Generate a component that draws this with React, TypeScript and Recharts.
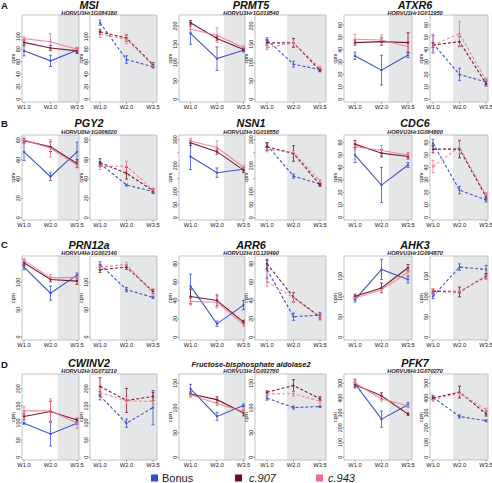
import React from 'react';
import { LineChart, Line, XAxis, YAxis, ErrorBar, ReferenceArea } from 'recharts';

const FONT = 'Liberation Sans, Arial, Helvetica, sans-serif';

const TIMES = ['W1.0', 'W2.0', 'W3.5'];
const GENOTYPES = ['Bonus', 'c.907', 'c.943'];
const LINE_COLORS = ['#3d52cf', '#7c1a2b', '#ee7790'];
const KEY_COLORS = ['#2b4bd8', '#6e0f20', '#ee6a86'];
const ROW_LETTERS = ['A', 'B', 'C', 'D'];

const GENE_NAMES = ['MSI', 'PRMT5', 'ATXR6', 'PGY2', 'NSN1', 'CDC6', 'PRN12a', 'ARR6', 'AHK3', 'CWINV2', 'Fructose-bisphosphate aldolase2', 'PFK7'];
const GENE_IDS = ['HORVU3Hr1G084160', 'HORVU3Hr1G019540', 'HORVU3Hr1G011950', 'HORVU0Hr1G006020', 'HORVU2Hr1G016550', 'HORVU3Hr1G084800', 'HORVU4Hr1G002140', 'HORVU2Hr1G120490', 'HORVU3Hr1G094870', 'HORVU2Hr1G073210', 'HORVU3Hr1G002780', 'HORVU6Hr1G070270'];

// rows: Bonus, c.907, c.943 ; columns: W1.0, W2.0, W3.5
const MSI_SOLID = [[77.5, 61.5, 78.6], [91, 82, 77.5], [97, 92, 80]];
const MSI_SOLID_ERR = [[8, 9, 4], [4, 4, 4], [3, 13, 3]];
const MSI_DASHED = [[122.5, 63.6, 52], [108, 98, 55.6], [104, 96, 54]];
const MSI_DASHED_ERR = [[4, 6, 2], [4, 5, 3], [5, 7, 3]];

const PRMT5_SOLID = [[180, 111, 134], [209, 166, 136], [191, 175, 141]];
const PRMT5_SOLID_ERR = [[30, 32, 5], [6, 5, 4], [8, 20, 5]];
const PRMT5_DASHED = [[162, 96, 81], [154, 154, 79], [141, 154, 86]];
const PRMT5_DASHED_ERR = [[6, 8, 3], [8, 12, 4], [6, 8, 4]];

const ATXR6_SOLID = [[35, 23.5, 35.7], [45.7, 46.5, 45.7], [48.4, 47.8, 42.4]];
const ATXR6_SOLID_ERR = [[3, 12, 2], [2, 3, 8], [4, 4, 4]];
const ATXR6_DASHED = [[45, 20, 14], [43.8, 46.5, 12.7], [43.8, 53, 15.4]];
const ATXR6_DASHED_ERR = [[7, 5, 2], [2, 4, 2], [7, 10, 2]];

const PGY2_SOLID = [[68, 42.4, 68], [79.7, 73.4, 56], [80.3, 71.7, 54.5]];
const PGY2_SOLID_ERR = [[9, 4, 10], [2, 5, 4], [3, 9, 3]];
const PGY2_DASHED = [[56, 33.8, 27], [57, 45.9, 28], [52.8, 53.4, 28.6]];
const PGY2_DASHED_ERR = [[2, 1, 2], [4, 6, 2], [3, 5, 2]];

const NSN1_SOLID = [[235, 173, 186], [288, 254, 183], [295, 270, 194]];
const NSN1_SOLID_ERR = [[50, 18, 6], [10, 10, 10], [10, 25, 5]];
const NSN1_DASHED = [[279, 160, 129], [273, 247, 126], [263, 251, 141]];
const NSN1_DASHED_ERR = [[10, 8, 4], [15, 30, 5], [10, 8, 5]];

const CDC6_SOLID = [[50, 26, 42], [58.7, 51.5, 48.8], [56.8, 53.6, 50]];
const CDC6_SOLID_ERR = [[6, 14, 2], [3, 3, 2], [3, 4, 2]];
const CDC6_DASHED = [[59.5, 22, 14], [54.7, 54.7, 16.8], [40.8, 56.3, 18]];
const CDC6_DASHED_ERR = [[3, 3, 1.5], [3, 7, 2], [5, 5, 2]];

const PRN12A_SOLID = [[127.6, 80, 113], [135.6, 105, 102], [140, 108, 109]];
const PRN12A_SOLID_ERR = [[5, 13, 4], [5, 4, 6], [4, 6, 4]];
const PRN12A_DASHED = [[132.5, 86.5, 72.4], [123, 127.6, 83.4], [127.6, 132.5, 80.4]];
const PRN12A_DASHED_ERR = [[5, 4, 2], [5, 4, 4], [5, 4, 4]];

const ARR6_SOLID = [[55.6, 14.6, 35], [44.4, 40, 16.4], [39, 38, 13.8]];
const ARR6_SOLID_ERR = [[13, 3, 5], [8, 6, 2], [4, 6, 2]];
const ARR6_DASHED = [[73.5, 22.4, 24], [80, 43.6, 22], [60.4, 43, 22]];
const ARR6_DASHED_ERR = [[10, 4, 3], [5, 5, 3], [5, 5, 3]];

const AHK3_SOLID = [[92.5, 167, 142], [101, 121.5, 171], [96.7, 117, 160]];
const AHK3_SOLID_ERR = [[6, 25, 8], [5, 12, 8], [5, 6, 8]];
const AHK3_DASHED = [[101, 172.7, 167], [113, 111.5, 150], [115, 113, 148]];
const AHK3_DASHED_ERR = [[6, 8, 10], [4, 12, 6], [5, 5, 5]];

const CWINV2_SOLID = [[99.5, 68, 99.5], [119, 133.7, 109], [135.6, 135.6, 99.5]];
const CWINV2_SOLID_ERR = [[3, 35, 3], [10, 30, 5], [12, 35, 15]];
const CWINV2_DASHED = [[179.5, 99.5, 145], [207, 166, 177.6], [189, 165, 163]];
const CWINV2_DASHED_ERR = [[12, 12, 50], [25, 35, 12], [12, 12, 10]];

const FBA2_SOLID = [[139, 83, 105], [128.6, 117, 90], [127, 109, 93]];
const FBA2_SOLID_ERR = [[9, 8, 3], [4, 6, 6], [5, 4, 5]];
const FBA2_DASHED = [[120, 101, 103], [132, 145.6, 119], [128.6, 129, 113.6]];
const FBA2_DASHED_ERR = [[4, 3, 2], [3, 12, 4], [3, 5, 4]];

const PFK7_SOLID = [[498, 258, 355], [491, 416, 292], [502, 394, 348]];
const PFK7_SOLID_ERR = [[30, 55, 15], [15, 20, 8], [15, 15, 10]];
const PFK7_DASHED = [[405, 276, 247], [400, 441, 294], [389, 434, 321]];
const PFK7_DASHED_ERR = [[15, 10, 7], [10, 40, 15], [10, 20, 10]];

const Y_MAX = [134.8, 230, 68, 85.5, 318, 66, 148, 88.4, 200, 243, 169, 563];
const Y_MIN = [-4.3, -7.3, -2.2, -2.4, -9, -1.9, -5.5, -3, -6.6, -7.8, -5.4, -18];
const Y_TICKS = [
  [0, 20, 40, 60, 80, 100],
  [0, 50, 100, 150, 200],
  [0, 10, 20, 30, 40, 50, 60],
  [0, 20, 40, 60, 80],
  [0, 50, 100, 150, 200, 250, 300],
  [0, 10, 20, 30, 40, 50, 60],
  [0, 50, 100],
  [0, 20, 40, 60, 80],
  [0, 50, 100, 150],
  [0, 50, 100, 150, 200],
  [0, 50, 100, 150],
  [0, 100, 200, 300, 400, 500],
];
const NSN1_UNLABELED = [150, 250];

const SOLID = [MSI_SOLID, PRMT5_SOLID, ATXR6_SOLID, PGY2_SOLID, NSN1_SOLID, CDC6_SOLID, PRN12A_SOLID, ARR6_SOLID, AHK3_SOLID, CWINV2_SOLID, FBA2_SOLID, PFK7_SOLID];
const SOLID_ERR = [MSI_SOLID_ERR, PRMT5_SOLID_ERR, ATXR6_SOLID_ERR, PGY2_SOLID_ERR, NSN1_SOLID_ERR, CDC6_SOLID_ERR, PRN12A_SOLID_ERR, ARR6_SOLID_ERR, AHK3_SOLID_ERR, CWINV2_SOLID_ERR, FBA2_SOLID_ERR, PFK7_SOLID_ERR];
const DASHED = [MSI_DASHED, PRMT5_DASHED, ATXR6_DASHED, PGY2_DASHED, NSN1_DASHED, CDC6_DASHED, PRN12A_DASHED, ARR6_DASHED, AHK3_DASHED, CWINV2_DASHED, FBA2_DASHED, PFK7_DASHED];
const DASHED_ERR = [MSI_DASHED_ERR, PRMT5_DASHED_ERR, ATXR6_DASHED_ERR, PGY2_DASHED_ERR, NSN1_DASHED_ERR, CDC6_DASHED_ERR, PRN12A_DASHED_ERR, ARR6_DASHED_ERR, AHK3_DASHED_ERR, CWINV2_DASHED_ERR, FBA2_DASHED_ERR, PFK7_DASHED_ERR];

// layout
const ROW_TOP = [15, 135, 256, 374];
const ROW_BOTTOM = [102, 220, 340, 460];
const TITLE_Y = [9.3, 127.3, 248.8, 366.8];
const ID_Y = [15, 134, 254.6, 373];
const LETTER_Y = [8.5, 126.5, 248, 368];
const BOX_LEFT = [22, 90, 179, 255, 344, 430];
const BOX_RIGHT = [79, 157, 245, 326, 412, 488];
const PT0 = [24, 100, 190.5, 267, 355, 433];
const STEP = 26.5;
const SHADE_START = [1.27, 0.76];
const COL_CENTER = [89, 251, 415];
const YW = 24;
const XH = 12;
const MT = 1;
const MR = 10;

const xTick = (props: any) => {
  const { x, y, payload } = props;
  return (
    <g>
      <line x1={x} x2={x} y1={y} y2={y + 1.8} stroke="#666" strokeWidth={0.6} />
      <text x={x} y={y + 6.8} textAnchor="middle" fontSize={5.8} fill="#222" fontFamily={FONT}>
        {TIMES[payload.value]}
      </text>
    </g>
  );
};

const makeYTick = (hidden: number[]) => (props: any) => {
  const { x, y, payload } = props;
  const v = payload.value;
  return (
    <g>
      <line x1={x - 1.6} x2={x} y1={y} y2={y} stroke="#666" strokeWidth={0.6} />
      {!hidden.includes(v) && (
        <text transform={`translate(${x - 2.2},${y}) rotate(-90)`} textAnchor="middle" fontSize={5.4} fill="#222" fontFamily={FONT}>
          {v}
        </text>
      )}
    </g>
  );
};

function Panel({ g, row, slot, side }: { g: number; row: number; slot: number; side: number }) {
  const L = BOX_LEFT[slot];
  const R = BOX_RIGHT[slot];
  const T = ROW_TOP[row];
  const B = ROW_BOTTOM[row];
  const w = R - L;
  const h = B - T;
  const x0 = (L - PT0[slot]) / STEP;
  const x1 = (R - PT0[slot]) / STEP;
  const vals = side === 0 ? SOLID[g] : DASHED[g];
  const errs = side === 0 ? SOLID_ERR[g] : DASHED_ERR[g];
  const data = TIMES.map((t, i) => ({
    x: i,
    v0: vals[0][i], e0: errs[0][i],
    v1: vals[1][i], e1: errs[1][i],
    v2: vals[2][i], e2: errs[2][i],
  }));
  const hidden = g === 4 ? NSN1_UNLABELED : [];
  return (
    <div style={{ position: 'absolute', left: L - YW, top: T - MT }}>
      <LineChart width={YW + w + MR} height={MT + h + XH} data={data} margin={{ top: MT, right: MR, bottom: 0, left: 0 }}>
        <XAxis
          type="number"
          dataKey="x"
          domain={[x0, x1]}
          ticks={[0, 1, 2]}
          allowDataOverflow
          height={XH}
          tick={xTick}
          tickLine={false}
          axisLine={false}
          tickSize={0}
          tickMargin={0}
          interval={0}
        />
        <YAxis
          type="number"
          domain={[Y_MIN[g], Y_MAX[g]]}
          ticks={Y_TICKS[g]}
          allowDataOverflow
          width={YW}
          tick={makeYTick(hidden)}
          tickLine={false}
          axisLine={false}
          tickSize={0}
          tickMargin={0}
          interval={0}
        />
        <ReferenceArea x1={SHADE_START[side]} x2={x1} y1={Y_MIN[g]} y2={Y_MAX[g]} fill="#e4e6e7" fillOpacity={1} stroke="none" />
        <ReferenceArea x1={x0} x2={x1} y1={Y_MIN[g]} y2={Y_MAX[g]} fill="none" fillOpacity={0} stroke="#b4b4b4" strokeWidth={0.8} />
        {[0, 1, 2].map((k) => (
          <Line
            key={k}
            type="linear"
            dataKey={'v' + k}
            name={GENOTYPES[k]}
            stroke={LINE_COLORS[k]}
            strokeWidth={1.1}
            strokeOpacity={k === 2 ? 0.85 : 1}
            strokeDasharray={side === 1 ? '3 2' : undefined}
            dot={{ r: 0.9, fill: LINE_COLORS[k], stroke: LINE_COLORS[k], strokeWidth: 0.5 }}
            activeDot={false}
            isAnimationActive={false}
          >
            <ErrorBar dataKey={'e' + k} width={1.5} stroke={LINE_COLORS[k]} strokeWidth={0.8} direction="y" isAnimationActive={false} />
          </Line>
        ))}
      </LineChart>
    </div>
  );
}

export default function App() {
  const panels: React.ReactNode[] = [];
  for (let r = 0; r < 4; r++) {
    for (let c = 0; c < 3; c++) {
      const g = r * 3 + c;
      panels.push(<Panel key={`${g}-s`} g={g} row={r} slot={2 * c} side={0} />);
      panels.push(<Panel key={`${g}-d`} g={g} row={r} slot={2 * c + 1} side={1} />);
    }
  }
  const texts: React.ReactNode[] = [];
  for (let r = 0; r < 4; r++) {
    texts.push(
      <text key={'L' + r} x={1} y={LETTER_Y[r]} fontSize={9.5} fontWeight="bold" fill="#111" fontFamily={FONT}>
        {ROW_LETTERS[r]}
      </text>
    );
    for (let c = 0; c < 3; c++) {
      const g = r * 3 + c;
      const long = GENE_NAMES[g].length > 12;
      texts.push(
        <text key={'T' + g} x={COL_CENTER[c]} y={TITLE_Y[r]} textAnchor="middle" fontSize={long ? 7.5 : 10.8} fontWeight="bold" fontStyle="italic" fill="#111" fontFamily={FONT}>
          {GENE_NAMES[g]}
        </text>
      );
      texts.push(
        <text key={'I' + g} x={COL_CENTER[c]} y={ID_Y[r]} textAnchor="middle" fontSize={5.6} fontWeight="bold" fontStyle="italic" fill="#222" fontFamily={FONT}>
          {GENE_IDS[g]}
        </text>
      );
      for (let s = 0; s < 2; s++) {
        const L = BOX_LEFT[2 * c + s];
        const cy = (ROW_TOP[r] + ROW_BOTTOM[r]) / 2;
        texts.push(
          <text key={`C${g}-${s}`} transform={`translate(${L - 7.5},${cy}) rotate(-90)`} textAnchor="middle" fontSize={5.2} fill="#222" fontFamily={FONT}>
            cpm
          </text>
        );
      }
    }
  }
  const KEY_SQ_X = [151, 235, 316];
  const KEY_TX_X = [162, 249, 328];
  return (
    <div style={{ position: 'absolute', left: 0, top: 0, width: 492, height: 483, background: '#fff', overflow: 'hidden' }}>
      {panels}
      <svg style={{ position: 'absolute', left: 0, top: 0, pointerEvents: 'none' }} width={492} height={483}>
        {texts}
        {GENOTYPES.map((gname, k) => (
          <g key={gname}>
            <rect x={KEY_SQ_X[k]} y={474.5} width={7} height={7} fill={KEY_COLORS[k]} />
            <text x={KEY_TX_X[k]} y={481.5} fontSize={11} fontStyle={k === 0 ? 'normal' : 'italic'} fill="#222" fontFamily={FONT}>
              {gname}
            </text>
          </g>
        ))}
      </svg>
    </div>
  );
}
